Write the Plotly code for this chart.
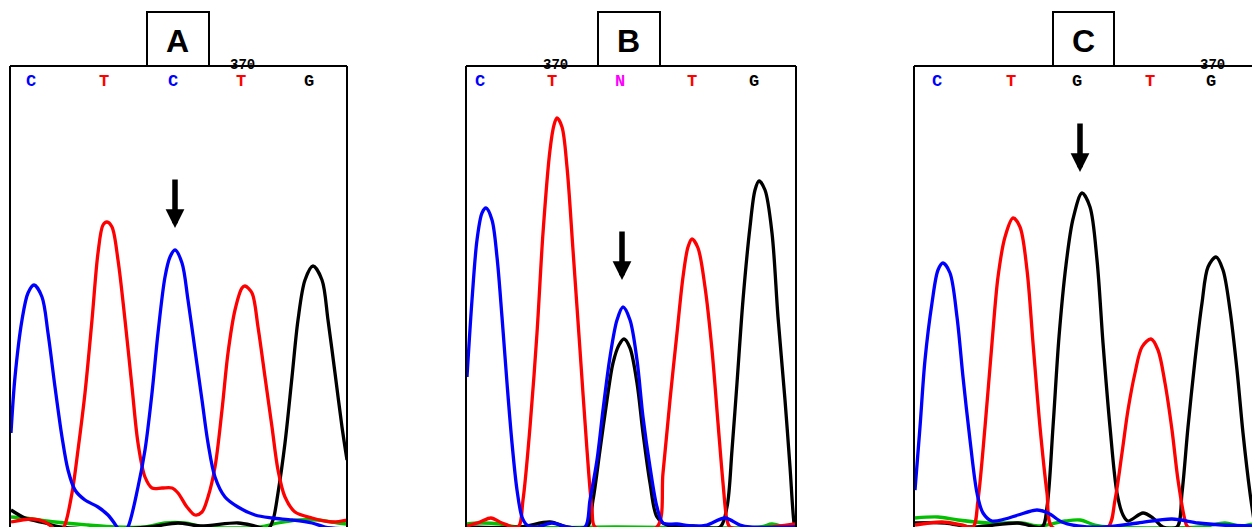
import plotly.graph_objects as go

W, H = 1252, 527

# ---------------- Panel A (C T C T G) ----------------
a_blue_x = [1, 5, 12, 18, 24, 32, 38, 45, 52, 58, 65, 75, 88, 98, 107, 112, 118, 128, 135, 142, 148, 155, 160, 165, 172, 178, 185, 192, 198, 205, 215, 228, 245, 262, 282, 302, 315, 337]
a_blue_y = [94, 150, 207, 234, 242, 230, 194, 140, 90, 57, 37, 27, 20, 12, 0, -8, 0, 40, 77, 134, 194, 250, 270, 277, 264, 227, 177, 127, 84, 50, 30, 20, 12, 9, 7, 4, 0, -2]
a_red_x = [1, 22, 35, 42, 48, 54, 62, 68, 75, 82, 88, 93, 97, 102, 108, 115, 122, 128, 135, 142, 152, 162, 168, 177, 185, 192, 198, 205, 212, 218, 225, 232, 235, 242, 248, 255, 262, 268, 275, 285, 302, 322, 337]
a_red_y = [5, 8, 5, 0, -6, 0, 34, 77, 134, 207, 274, 302, 305, 300, 267, 207, 140, 84, 50, 39, 39, 39, 34, 20, 12, 15, 30, 60, 117, 174, 217, 239, 241, 234, 200, 150, 100, 57, 30, 15, 9, 5, 7]
a_black_x = [1, 15, 35, 50, 90, 140, 168, 190, 228, 245, 258, 263, 268, 275, 282, 288, 295, 303, 312, 318, 325, 332, 337]
a_black_y = [17, 9, 4, 0, -2, 0, 4, 1, 4, 1, -2, 7, 34, 84, 150, 207, 247, 261, 247, 207, 154, 100, 67]
a_green_x = [1, 15, 45, 78, 105, 135, 155, 175, 195, 250, 268, 288, 308, 328, 337]
a_green_y = [10, 9, 5, 2, 0, 0, 4, 4, 0, 0, 4, 7, 7, 4, 3]
a_bases = ["C", "T", "C", "T", "G"]
a_base_x = [21, 94, 163, 231, 299]

# ---------------- Panel B (C T N T G) ----------------
b_blue_x = [1, 6, 11, 16, 20, 26, 31, 36, 41, 46, 51, 56, 61, 71, 86, 101, 119, 124, 131, 137, 144, 151, 157, 164, 171, 177, 184, 191, 197, 211, 227, 241, 259, 274, 284, 329]
b_blue_y = [150, 227, 287, 314, 319, 307, 270, 210, 144, 84, 37, 10, 2, 0, 4, 0, 0, 27, 67, 117, 170, 207, 220, 207, 167, 110, 60, 20, 4, 3, 1, 2, 9, 2, 0, 0]
b_red_x = [1, 14, 25, 36, 52, 57, 64, 71, 77, 84, 88, 91, 96, 101, 107, 114, 121, 126, 129, 159, 191, 197, 204, 211, 217, 222, 226, 232, 239, 246, 252, 257, 261, 264, 294, 329]
b_red_y = [1, 5, 9, 4, 0, 27, 100, 194, 294, 377, 402, 409, 400, 360, 277, 177, 77, 17, 0, -4, 0, 54, 127, 194, 250, 280, 288, 279, 240, 177, 104, 44, 7, 0, -1, 3]
b_black_x = [1, 54, 84, 101, 121, 127, 134, 141, 147, 153, 158, 164, 171, 177, 184, 191, 201, 227, 254, 261, 266, 271, 277, 284, 289, 293, 299, 306, 312, 319, 324, 328, 331]
b_black_y = [0, 0, 5, 0, 0, 27, 77, 127, 164, 182, 188, 179, 144, 94, 44, 10, 2, 1, 0, 20, 77, 144, 227, 300, 337, 346, 337, 294, 210, 127, 60, 4, -13]
b_green_x = [1, 14, 34, 51, 150, 294, 306, 319, 329]
b_green_y = [3, 4, 3, 0, 0, 0, 3, 0, 0]
b_bases = ["C", "T", "N", "T", "G"]
b_base_x = [14, 86, 154, 226, 288]

# ---------------- Panel C (C T G T G) ----------------
c_blue_x = [1, 6, 11, 18, 24, 29, 36, 43, 49, 56, 63, 69, 78, 91, 104, 123, 134, 148, 164, 191, 224, 258, 284, 308, 338]
c_blue_y = [37, 100, 167, 224, 257, 264, 254, 210, 150, 87, 34, 14, 6, 8, 12, 17, 14, 5, 1, 0, 4, 8, 4, 2, 1]
c_red_x = [1, 28, 48, 59, 64, 71, 78, 84, 91, 99, 106, 113, 119, 126, 133, 138, 166, 194, 201, 208, 214, 221, 228, 237, 244, 251, 258, 264, 271, 274, 338]
c_red_y = [2, 5, 2, 0, 27, 100, 184, 250, 290, 309, 300, 257, 184, 100, 34, 0, -3, 0, 27, 74, 117, 154, 180, 188, 177, 144, 97, 47, 7, 0, -1]
c_black_x = [1, 31, 58, 104, 128, 133, 139, 145, 152, 159, 168, 176, 183, 189, 196, 203, 209, 214, 229, 239, 249, 263, 268, 274, 281, 288, 294, 302, 309, 316, 323, 329, 336, 341]
c_black_y = [4, 4, 0, 4, 0, 20, 100, 190, 262, 308, 334, 320, 267, 184, 100, 34, 12, 6, 14, 9, 0, 0, 34, 100, 167, 224, 260, 270, 257, 217, 157, 94, 34, 0]
c_green_x = [1, 24, 44, 74, 108, 126, 151, 166, 181, 196, 286, 311, 326, 338]
c_green_y = [9, 10, 7, 4, 4, 1, 6, 7, 2, 0, 0, 4, 1, 3]
c_bases = ["C", "T", "G", "T", "G"]
c_base_x = [23, 97, 163, 236, 297]

# arrow tips (scan position, intensity) and position marker "370"
arrow_x = [165, 156, 166]
arrow_y = [299, 247, 355]
pos_label = "370"
pos_label_x = [232, 89, 298]
panel_titles = ["A", "B", "C"]

BLUE, RED, BLACK, GREEN, MAG = "#0000ff", "#ff0000", "#000000", "#00c000", "#ff00ff"
base_color = {"C": BLUE, "T": RED, "G": BLACK, "A": GREEN, "N": MAG}

panels = [
    dict(left=10, right=347, xmax=337, right_border=True, box=(147, 209),
         traces=[(GREEN, a_green_x, a_green_y), (BLACK, a_black_x, a_black_y),
                 (RED, a_red_x, a_red_y), (BLUE, a_blue_x, a_blue_y)],
         bases=a_bases, base_x=a_base_x),
    dict(left=466, right=796, xmax=330, right_border=True, box=(598, 660),
         traces=[(GREEN, b_green_x, b_green_y), (BLACK, b_black_x, b_black_y),
                 (RED, b_red_x, b_red_y), (BLUE, b_blue_x, b_blue_y)],
         bases=b_bases, base_x=b_base_x),
    dict(left=914, right=1252, xmax=338, right_border=False, box=(1053, 1114),
         traces=[(GREEN, c_green_x, c_green_y), (BLACK, c_black_x, c_black_y),
                 (RED, c_red_x, c_red_y), (BLUE, c_blue_x, c_blue_y)],
         bases=c_bases, base_x=c_base_x),
]

TOP = 66  # pixel row of the frame top
ytop = (H - TOP) / H
YMAX = H - TOP

fig = go.Figure()
shapes, annotations = [], []

for i, p in enumerate(panels):
    n = "" if i == 0 else str(i + 1)
    xa, ya = "x" + n, "y" + n
    for color, xs, ys in p["traces"]:
        fig.add_trace(go.Scatter(x=xs, y=ys, mode="lines", xaxis=xa, yaxis=ya,
                                 line=dict(color=color, width=3.3, shape="spline", smoothing=0.9),
                                 hoverinfo="skip", showlegend=False))
    fig.update_layout({
        "xaxis" + n: dict(domain=[p["left"] / W, min(p["right"] / W, 1.0)], range=[0, p["xmax"]],
                          visible=False, fixedrange=True),
        "yaxis" + n: dict(domain=[0, ytop], range=[0, YMAX], visible=False, fixedrange=True,
                          anchor=xa),
    })
    # frame
    x0p, x1p = p["left"] / W, p["right"] / W
    shapes.append(dict(type="line", xref="paper", yref="paper", x0=x0p, x1=x0p, y0=-0.05, y1=ytop,
                       line=dict(color="black", width=2)))
    shapes.append(dict(type="line", xref="paper", yref="paper", x0=x0p, x1=min(x1p, 1.0) + (0 if p["right_border"] else 0.01),
                       y0=ytop, y1=ytop, line=dict(color="black", width=2)))
    if p["right_border"]:
        shapes.append(dict(type="line", xref="paper", yref="paper", x0=x1p, x1=x1p, y0=-0.05, y1=ytop,
                           line=dict(color="black", width=2)))
    # title box
    bx0, bx1 = p["box"]
    shapes.append(dict(type="rect", xref="paper", yref="paper", x0=bx0 / W, x1=bx1 / W,
                       y0=ytop, y1=(H - 12) / H, line=dict(color="black", width=2),
                       fillcolor="white"))
    annotations.append(dict(xref="paper", yref="paper", x=(bx0 + bx1) / 2 / W, y=(H - 41) / H,
                            text="<b>%s</b>" % panel_titles[i], showarrow=False,
                            font=dict(family="Liberation Sans, Arial", size=32, color="black"),
                            xanchor="center", yanchor="middle"))
    # base calls
    for b, bx in zip(p["bases"], p["base_x"]):
        annotations.append(dict(xref=xa, yref=ya, x=bx, y=H - 81, text="<b>%s</b>" % b,
                                showarrow=False, xanchor="center", yanchor="middle",
                                font=dict(family="Liberation Mono, Courier New", size=17,
                                          color=base_color[b])))
    # position label 370
    annotations.append(dict(xref=xa, yref="paper", x=pos_label_x[i], y=(H - 65) / H,
                            text="<b>%s</b>" % pos_label, showarrow=False,
                            xanchor="center", yanchor="middle",
                            font=dict(family="Liberation Mono, Courier New", size=14, color="black")))
    # arrow
    annotations.append(dict(xref=xa, yref=ya, x=arrow_x[i], y=arrow_y[i], text="",
                            showarrow=True, arrowhead=2, arrowsize=0.68, arrowwidth=5.5,
                            arrowcolor="black", ax=0, ay=-50, standoff=0))

fig.update_layout(width=W, height=H, margin=dict(l=0, r=0, t=0, b=0),
                  paper_bgcolor="white", plot_bgcolor="white",
                  shapes=shapes, annotations=annotations, showlegend=False)

fig.write_html("out.html", config={"displayModeBar": False, "staticPlot": True},
               post_script="document.body.style.margin='0';document.body.style.padding='0';"
                           "document.documentElement.style.overflow='hidden';")
